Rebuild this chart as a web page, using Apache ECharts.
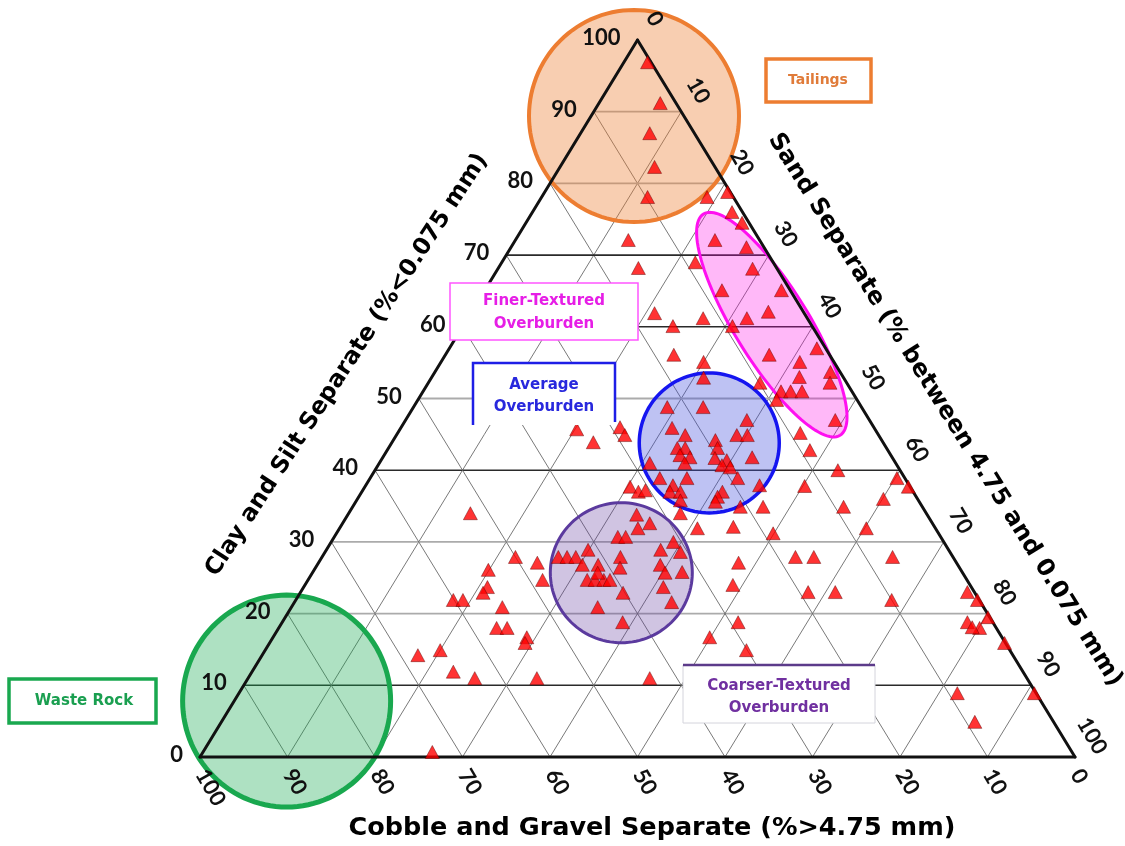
<!DOCTYPE html>
<html><head><meta charset="utf-8">
<script src="https://cdn.jsdelivr.net/npm/echarts@6/dist/echarts.min.js"></script>
<style>html,body{margin:0;padding:0;background:#fff}#c{width:1125px;height:846px}</style>
</head><body><div id="c"></div>
<script>
// ---- tick labels (percent) ----
const clayTicks = [0,10,20,30,40,50,60,70,80,90,100];
const sandTicks = [0,10,20,30,40,50,60,70,80,90,100];
const gravelTicks = [100,90,80,70,60,50,40,30,20,10,0];
const gridSteps = [10,20,30,40,50,60,70,80,90];
const darkClayLines = [10,40,60,70];

// ---- samples: sand % and clay+silt % (gravel = remainder) ----
const sampleSand = [2.7,7.0,7.9,10.8,12.1,18.9,20.9,22.8,24.7,12.9,22.8,26.9,16.0,22.1,29.1,27.1,33.9,21.0,26.9,24.0,31.9,33.9,30.8,42.0,26.1,37.0,30.0,41.0,45.2,42.0,31.1,37.9,40.9,42.0,43.3,45.9,41.0,49.1,
29.0,33.1,39.0,31.0,33.0,38.9,40.1,36.8,33.0,33.9,37.6,33.8,35.1,42.2,38.0,39.5,30.9,34.9,39.3,40.4,33.1,36.2,42.0,35.1,45.0,35.2,36.4,41.2,41.0,37.0,41.1,
25.0,26.1,20.2,23.0,30.3,31.6,32.3,37.9,40.9,44.9,46.9,49.9,44.3,
46.0,48.3,52.9,50.2,60.2,62.1,60.1,56.1,60.2,54.1,56.2,65.2,58.0,61.1,68.1,76.2,77.9,78.3,80.1,79.2,80.3,84.0,82.1,90.9,86.1,
48.0,48.9,52.1,49.9,55.0,45.9,
33.0,34.1,35.1,32.4,33.3,39.1,38.2,40.6,29.9,27.0,28.0,29.0,30.3,32.1,34.1,34.8,39.2,42.2,40.3,31.9,32.8,33.8,34.5,32.6,41.1,36.9,43.1,35.0,38.9,
13.9,22.1,25.0,26.8,19.9,21.0,20.9,18.0,19.1,24.1,24.9,26.1,29.0,29.2,17.8,20.0,23.0,25.9,33.0,26.2];
const sampleClay = [96.9,91.2,87.0,82.3,78.1,78.1,78.8,76.0,74.5,72.1,72.1,71.1,68.2,69.0,68.1,65.1,65.1,61.9,61.2,60.1,61.2,62.1,60.1,57.0,56.1,56.1,55.1,55.1,53.7,53.0,52.9,52.2,51.0,51.0,51.0,52.2,49.8,47.0,
48.8,48.8,47.0,45.9,44.9,44.9,44.9,44.2,43.1,43.1,43.1,42.1,41.8,41.8,41.7,41.4,41.0,41.0,40.7,40.4,38.9,38.9,38.9,37.9,37.9,37.0,37.0,37.0,36.3,35.8,35.6,
46.0,44.9,45.7,43.9,37.7,37.0,37.2,34.0,31.9,32.1,34.9,31.2,34.9,
45.2,42.8,40.0,37.8,38.9,37.7,36.0,34.9,31.9,27.9,27.9,27.9,23.0,23.0,21.9,23.0,21.9,18.8,18.0,18.1,19.5,15.9,8.9,8.9,4.9,
27.1,24.0,18.8,16.7,14.9,11.0,
33.8,31.9,32.6,30.7,30.7,30.0,28.9,28.6,28.9,27.9,27.9,27.9,26.8,26.8,27.9,26.4,26.8,25.8,25.7,24.7,24.7,24.7,24.7,25.7,23.7,22.9,21.6,20.9,18.8,
34.0,27.9,27.1,24.7,26.1,23.7,22.9,21.9,21.9,20.9,18.0,18.0,16.7,15.9,14.2,14.9,11.9,11.0,11.0,0.7];

// ---- highlighted zones: centre in sand % / clay % ----
const zoneNames = ['Tailings','Finer-Textured Overburden','Average Overburden','Coarser-Textured Overburden','Waste Rock'];
const zoneSand = [4.9, 35.2, 36.3, 35.3, 6.0];
const zoneClay = [89.4, 60.3, 43.8, 25.7, 7.8];

// ternary (sand, clay) -> cartesian helper frame
function tern(s, c) { return [s + c / 2, c]; }

const zoneStyle = [
  {rx:105, ry:106, rot:0, fill:'rgba(237,125,49,0.38)', stroke:'#ED7D31', lw:4},
  {rx:130, ry:37, rot:-58.3, fill:'rgba(255,0,230,0.28)', stroke:'#FF10F0', lw:3},
  {rx:70, ry:70, rot:0, fill:'rgba(70,80,220,0.35)', stroke:'#1515F0', lw:3.5},
  {rx:71, ry:70, rot:0, fill:'rgba(100,60,160,0.30)', stroke:'#5B3A9E', lw:3},
  {rx:104, ry:106, rot:0, fill:'rgba(24,168,80,0.35)', stroke:'#19A84F', lw:5}
];

// grid segments in (sand, clay) pairs
const gridSegs = [];
gridSteps.forEach(v => {
  gridSegs.push([0, v, 100 - v, v, darkClayLines.indexOf(v) >= 0 ? 1 : 2]); // const clay
  gridSegs.push([v, 0, v, 100 - v, 0]);        // const sand
  gridSegs.push([100 - v, 0, 0, 100 - v, 0]);  // const gravel
});
const borderSegs = [[0,0,100,0],[100,0,0,100],[0,100,0,0]];

const chart = echarts.init(document.getElementById('c'), null, {renderer:'canvas'});
const tickFont = "bold 22px Lato";
const boxFont = "bold 15px 'DejaVu Sans'";

function segRender(styleFn) {
  return function (params, api) {
    const a = api.coord(tern(api.value(0), api.value(1)));
    const b = api.coord(tern(api.value(2), api.value(3)));
    return {type:'line', shape:{x1:a[0], y1:a[1], x2:b[0], y2:b[1]}, style: styleFn(api), silent:true};
  };
}

const option = {
  animation: false,
  backgroundColor: '#fff',
  grid: {left:200, top:40, width:875, height:717},
  xAxis: {type:'value', min:0, max:100, show:false},
  yAxis: {type:'value', min:0, max:100, show:false},
  series: [
    { type:'custom', z:1, clip:false, data: gridSegs,
      renderItem: segRender(api => {
        const k = api.value(4);
        if (k === 1) return {stroke:'#2a2a2a', lineWidth:1.6};
        if (k === 2) return {stroke:'#ababab', lineWidth:1.8};
        return {stroke:'#6a6a6a', lineWidth:0.9};
      }) },
    { type:'custom', z:3, clip:false,
      data: zoneSand.map((s, i) => [s, zoneClay[i]]),
      renderItem: function (params, api) {
        const st = zoneStyle[params.dataIndex];
        const p = api.coord(tern(api.value(0), api.value(1)));
        const pts = [];
        const r = st.rot * Math.PI / 180;
        for (let k = 0; k < 120; k++) {
          const t = k / 120 * Math.PI * 2;
          const ex = st.rx * Math.cos(t), ey = st.ry * Math.sin(t);
          pts.push([p[0] + ex * Math.cos(r) + ey * Math.sin(r), p[1] - ex * Math.sin(r) + ey * Math.cos(r)]);
        }
        return {type:'polygon', shape:{points:pts}, style:{fill:st.fill, stroke:st.stroke, lineWidth:st.lw}};
      } },
    { type:'custom', z:4, clip:false, data: borderSegs,
      renderItem: segRender(() => ({stroke:'#111', lineWidth:3, lineCap:'round'})) },
    { type:'scatter', z:5, symbol:'triangle', symbolSize:[14,13],
      itemStyle:{color:'#FF0000', borderColor:'rgba(90,0,0,0.7)', borderWidth:0.8},
      data: sampleSand.map((s, i) => tern(s, sampleClay[i])) },
    // left ticks (clay)
    { type:'custom', z:6, clip:false, data: clayTicks.map(c => [0, c]),
      renderItem: function (params, api) {
        const p = api.coord(tern(api.value(0), api.value(1)));
        return {type:'text', x:p[0] - 17, y:p[1] - 2,
          style:{text:String(clayTicks[params.dataIndex]), font:tickFont, fill:'#111', align:'right', verticalAlign:'middle'}};
      } },
    // right ticks (sand)
    { type:'custom', z:6, clip:false, data: sandTicks.map(s => [s, 100 - s]),
      renderItem: function (params, api) {
        const p = api.coord(tern(api.value(0), api.value(1)));
        return {type:'text', x:p[0] + 17, y:p[1] - 21, rotation:-Math.PI / 3,
          style:{text:String(sandTicks[params.dataIndex]), font:tickFont, fill:'#111', align:'center', verticalAlign:'middle'}};
      } },
    // bottom ticks (gravel)
    { type:'custom', z:6, clip:false, data: gravelTicks.map(g => [100 - g, 0]),
      renderItem: function (params, api) {
        const p = api.coord(tern(api.value(0), api.value(1)));
        return {type:'text', x:p[0] + 1, y:p[1] + 14, rotation:-Math.PI / 3,
          style:{text:String(gravelTicks[params.dataIndex]), font:tickFont, fill:'#111', align:'left', verticalAlign:'middle'}};
      } }
  ],
  graphic: [
    {type:'text', x:347, y:365, rotation:57 * Math.PI / 180, z:100,
      style:{text:'Clay and Silt Separate (%<0.075 mm)', font:"bold 23.5px 'DejaVu Sans'", fill:'#000', align:'center', verticalAlign:'middle'}},
    {type:'text', x:945, y:410, rotation:-58 * Math.PI / 180, z:100,
      style:{text:'Sand Separate (% between 4.75 and 0.075 mm)', font:"bold 24px 'DejaVu Sans'", fill:'#000', align:'center', verticalAlign:'middle'}},
    {type:'text', x:652, y:828, z:100,
      style:{text:'Cobble and Gravel Separate (%>4.75 mm)', font:"bold 25.5px 'DejaVu Sans'", fill:'#000', align:'center', verticalAlign:'middle'}},
    // Tailings box
    {type:'rect', z:100, shape:{x:766, y:59, width:105, height:43}, style:{fill:'#fff', stroke:'#ED7D31', lineWidth:3.5}},
    {type:'text', z:101, x:818, y:80, style:{text:'Tailings', font:"bold 14px 'DejaVu Sans'", fill:'#E07B39', align:'center', verticalAlign:'middle'}},
    // Finer box
    {type:'rect', z:100, shape:{x:450, y:283, width:188, height:57}, style:{fill:'#fff', stroke:'#FF55FF', lineWidth:1.5}},
    {type:'text', z:101, x:544, y:313, style:{text:'Finer-Textured\nOverburden', font:boxFont, lineHeight:23, fill:'#E61EE6', align:'center', verticalAlign:'middle'}},
    // Average box
    {type:'rect', z:100, shape:{x:473, y:363, width:142, height:62}, style:{fill:'#fff'}},
    {type:'polyline', z:101, shape:{points:[[473,425],[473,363],[615,363],[615,422]]}, style:{stroke:'#1E1EE6', lineWidth:2.5, fill:null}},
    {type:'text', z:101, x:544, y:396, style:{text:'Average\nOverburden', font:boxFont, lineHeight:22, fill:'#2828DD', align:'center', verticalAlign:'middle'}},
    // Coarser box
    {type:'rect', z:100, shape:{x:683, y:665, width:192, height:58}, style:{fill:'#fff', stroke:'#D4D4DC', lineWidth:1}},
    {type:'line', z:101, shape:{x1:683, y1:665, x2:875, y2:665}, style:{stroke:'#5C3B8A', lineWidth:2.5}},
    {type:'text', z:101, x:779, y:697, style:{text:'Coarser-Textured\nOverburden', font:boxFont, lineHeight:22, fill:'#7030A0', align:'center', verticalAlign:'middle'}},
    // Waste rock box
    {type:'rect', z:100, shape:{x:9, y:679, width:147, height:44}, style:{fill:'#fff', stroke:'#19A84F', lineWidth:3.5}},
    {type:'text', z:101, x:84, y:701, style:{text:'Waste Rock', font:"bold 15px 'DejaVu Sans'", fill:'#1A9F50', align:'center', verticalAlign:'middle'}}
  ]
};
chart.setOption(option);
</script>
</body></html>
